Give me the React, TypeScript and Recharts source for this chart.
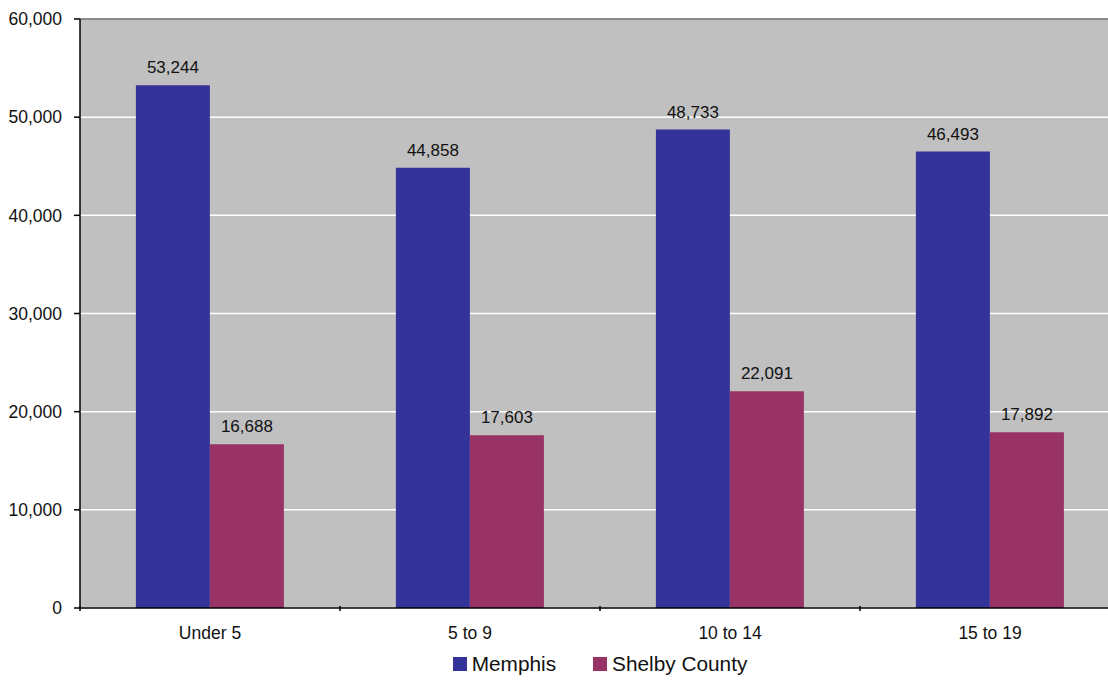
import React from "react";
import {
  BarChart,
  Bar,
  XAxis,
  YAxis,
  CartesianGrid,
  Legend,
  LabelList,
  ReferenceLine,
} from "recharts";

const ageGroups = ["Under 5", "5 to 9", "10 to 14", "15 to 19"];
const memphis = [53244, 44858, 48733, 46493];
const shelbyCounty = [16688, 17603, 22091, 17892];
const yTicks = [0, 10000, 20000, 30000, 40000, 50000, 60000];

const data = ageGroups.map((label, i) => ({
  label,
  memphis: memphis[i],
  shelby: shelbyCounty[i],
}));

const CHART_W = 1120;
const CHART_H = 690;
const AXIS_W = 80;
const BAND = (CHART_W - AXIS_W) / ageGroups.length;
const FONT = "'Liberation Sans', Arial, sans-serif";

const fmt = (v: number) => v.toLocaleString("en-US");

// category labels centred, tick marks on the category boundaries
function CategoryTick(props: any) {
  const { x, y, payload } = props;
  return (
    <g>
      <line x1={x - BAND / 2} x2={x - BAND / 2} y1={y - 10} y2={y - 5} stroke="#000" strokeWidth={1.5} />
      <text x={x} y={y + 23} textAnchor="middle" fontSize={17.5} fill="#111" fontFamily={FONT}>
        {payload.value}
      </text>
    </g>
  );
}

function LegendContent() {
  const items = [
    { name: "Memphis", color: "#333399" },
    { name: "Shelby County", color: "#993366" },
  ];
  return (
    <div
      style={{
        width: CHART_W - AXIS_W,
        marginLeft: AXIS_W,
        height: 30,
        display: "flex",
        justifyContent: "center",
        alignItems: "center",
        gap: 37,
        fontFamily: FONT,
        fontSize: 20.8,
        color: "#111",
      }}
    >
      {items.map((it) => (
        <div key={it.name} style={{ display: "flex", alignItems: "center", gap: 5 }}>
          <span style={{ width: 14, height: 14, background: it.color, display: "inline-block" }} />
          <span>{it.name}</span>
        </div>
      ))}
    </div>
  );
}

const labelStyle = { fontSize: 17, fill: "#111", fontFamily: FONT };

export default function App() {
  return (
    <div
      style={{
        position: "absolute",
        left: 0,
        top: 0,
        width: 1108,
        height: CHART_H,
        overflow: "hidden",
        background: "#fff",
        fontFamily: FONT,
      }}
    >
      <BarChart
        width={CHART_W}
        height={CHART_H}
        data={data}
        margin={{ top: 19, right: 0, left: 0, bottom: 11 }}
        barCategoryGap="21.5%"
        barGap={0}
      >
        <CartesianGrid vertical={false} stroke="#ffffff" strokeWidth={1.5} fill="#c0c0c0" />
        <XAxis
          dataKey="label"
          height={41}
          tickLine={false}
          axisLine={{ stroke: "#000", strokeWidth: 1.5 }}
          tick={<CategoryTick />}
          interval={0}
        />
        <YAxis
          width={AXIS_W}
          domain={[0, 60000]}
          ticks={yTicks}
          tickFormatter={fmt}
          tickSize={6}
          tickMargin={12}
          axisLine={{ stroke: "#000", strokeWidth: 1.5 }}
          tickLine={{ stroke: "#000", strokeWidth: 1.5 }}
          tick={{ fontSize: 17.5, fill: "#111", fontFamily: FONT }}
        />
        <ReferenceLine y={60000} stroke="#8a8a8a" strokeWidth={2} />
        <Legend verticalAlign="bottom" content={<LegendContent />} wrapperStyle={{ left: 0, width: CHART_W }} />
        <Bar dataKey="memphis" name="Memphis" fill="#333399" isAnimationActive={false}>
          <LabelList dataKey="memphis" position="top" offset={12} formatter={(v: any) => fmt(Number(v))} style={labelStyle} />
        </Bar>
        <Bar dataKey="shelby" name="Shelby County" fill="#993366" isAnimationActive={false}>
          <LabelList dataKey="shelby" position="top" offset={12} formatter={(v: any) => fmt(Number(v))} style={labelStyle} />
        </Bar>
      </BarChart>
    </div>
  );
}
